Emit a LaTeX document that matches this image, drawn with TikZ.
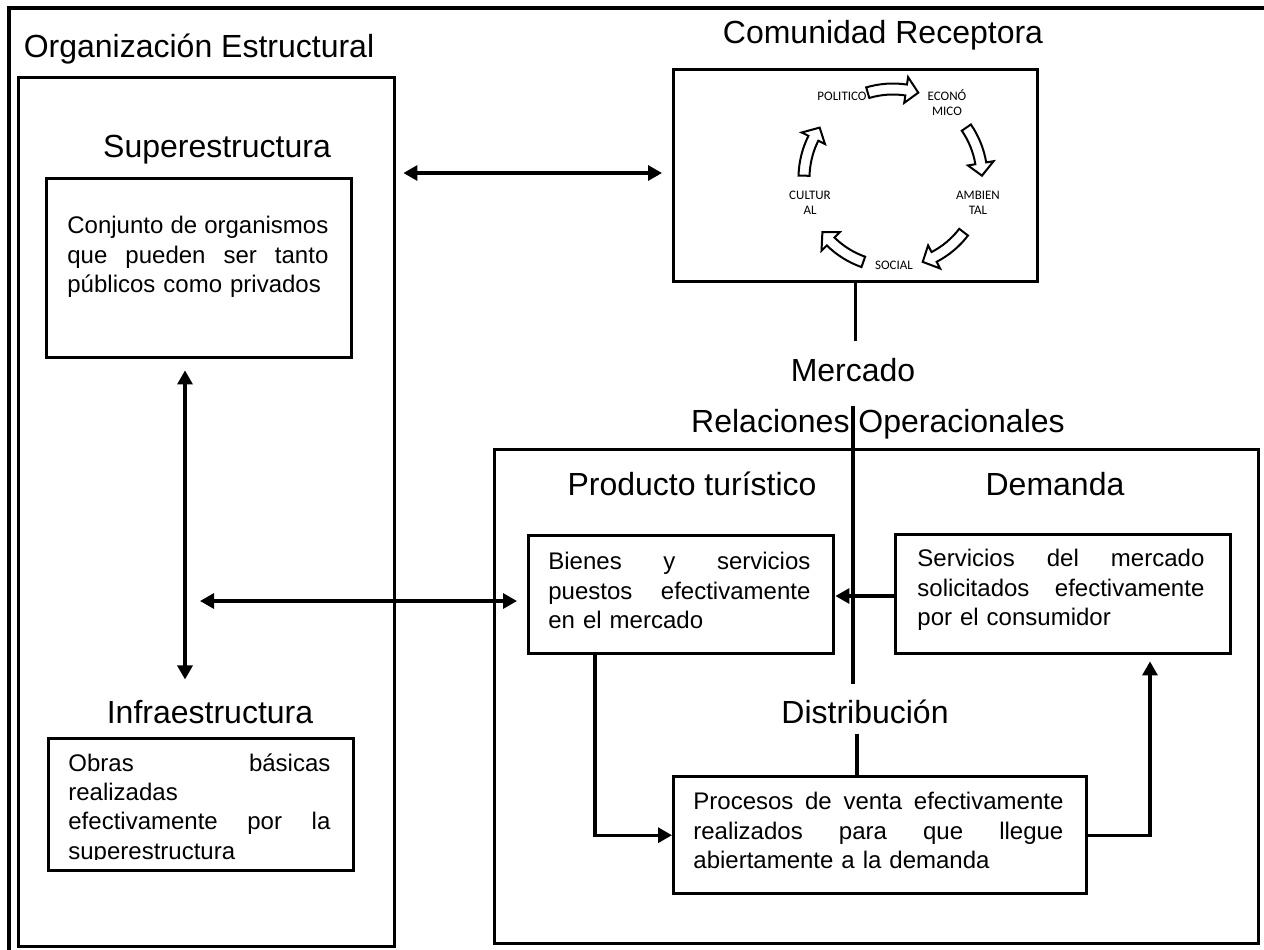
\documentclass[tikz,border=0pt]{standalone}
\usepackage{fontspec}
\setmainfont{Liberation Sans}
\newfontfamily\cycfont{Carlito}
\usetikzlibrary{arrows.meta,calc}
\begin{document}
\begin{tikzpicture}[x=0.5pt,y=-0.5pt,
  >={Triangle[length=7pt,width=7.5pt]},
  frame/.style={draw, line width=1.7pt, inner sep=0pt, anchor=north west},
  ttl/.style={font=\fontsize{16pt}{19pt}\selectfont, inner sep=0pt, anchor=base},
  body/.style={font=\fontsize{12pt}{14.7pt}\selectfont, inner sep=0pt, anchor=north west, align=left},
  conn/.style={line width=1.6pt, ->},
  dconn/.style={line width=1.6pt, <->},
  plain/.style={line width=1.6pt},
  cyc/.style={font=\cycfont\fontsize{6.5pt}{7.5pt}\selectfont, align=center, inner sep=0pt},
  barrow/.style={draw, fill=white, line width=1pt, line join=miter}]
\useasboundingbox (0,0) rectangle (1264,949);
\fill[white] (0,0) rectangle (1264,949);
% page frame
\draw[line width=1.7pt] (9,1000) -- (9,8) -- (1300,8);

% Organizacion Estructural
\node[frame, minimum width=188pt, minimum height=434.5pt] (org) at (17,76) {};
\node[ttl] (orgt) at (199,57) {Organización Estructural};
\node[ttl] (supt) at (217,157) {Superestructura};
\node[frame, minimum width=152.5pt, minimum height=89.5pt] (sup) at (45,177) {};
\node[body, text width=130.5pt] (supx) at (67,216) {Conjunto\hfill de\hfill organismos\\ que\hfill pueden\hfill ser\hfill tanto\\ públicos como privados};
\node[ttl] (inft) at (210,723) {Infraestructura};
\node[frame, minimum width=152.5pt, minimum height=66pt] (inf) at (47,737) {};
\begin{scope}
\clip (47,737) rectangle (352,859);
\node[body, text width=131pt] (infx) at (68,753) {Obras\hfill básicas\\ realizadas\\ efectivamente\hfill por\hfill la\\ superestructura};
\end{scope}

% Comunidad Receptora
\node[ttl] (comt) at (883,43) {Comunidad Receptora};
\node[frame, minimum width=182pt, minimum height=106pt] (com) at (672,68) {};
\begin{scope}[shift={(893,178)}, yscale=-1]
 \foreach \c in {90,18,-54,-126,-198} {
   \pgfmathsetmacro\ta{\c+16.5}
   \pgfmathsetmacro\tb{\c-16.5}
   \pgfmathsetmacro\th{\c-8.5}
   \draw[barrow] (\ta:94.5) arc[start angle=\ta, end angle=\th, radius=94.5] -- (\th:102) -- (\tb:89) -- (\th:76) -- (\th:83.5) arc[start angle=\th, end angle=\ta, radius=83.5] -- cycle;
 }
\end{scope}
\node[cyc] (pol) at (842,96) {POLITICO};
\node[cyc] (eco) at (947,103) {ECONÓ\\MICO};
\node[cyc] (amb) at (978,203) {AMBIEN\\TAL};
\node[cyc] (soc) at (894,265) {SOCIAL};
\node[cyc] (cul) at (810,203) {CULTUR\\AL};

% Mercado / Relaciones Operacionales
\node[ttl] (merc) at (853,381) {Mercado};
\node[ttl] (relt) at (878,432) {Relaciones Operacionales};
\node[frame, minimum width=382pt, minimum height=247pt] (op) at (493,448) {};
\node[ttl] (prodt) at (692,495) {Producto turístico};
\node[ttl] (demt) at (1055,495) {Demanda};
\node[frame, minimum width=152.5pt, minimum height=59pt] (prod) at (527,534) {};
\node[body, text width=131pt] (prodx) at (548,552) {Bienes\hfill y\hfill servicios\\ puestos\hfill efectivamente\\ en el mercado};
\node[frame, minimum width=167.5pt, minimum height=59.5pt] (dem) at (894,533) {};
\node[body, text width=143.5pt] (demx) at (917,549) {Servicios\hfill del\hfill mercado\\ solicitados\hfill efectivamente\\ por el consumidor};
\node[ttl] (dist) at (865,723) {Distribución};
\node[frame, minimum width=206.5pt, minimum height=58.5pt] (proc) at (672,775) {};
\node[body, text width=185pt] (procx) at (693,792) {Procesos\hfill de\hfill venta\hfill efectivamente\\ realizados\hfill para\hfill que\hfill llegue\\ abiertamente a la demanda};

% connectors
\coordinate (ya) at (0,173);
\coordinate (xv) at (185,0);
\coordinate (ym) at (0,601);
\coordinate (yd) at (0,596);
\coordinate (xp) at (595,0);
\coordinate (xq) at (1150,0);
\coordinate (xd) at (857,0);
\draw[dconn] ($(org.east |- ya)+(7,0)$) -- ($(com.west |- ya)+(-10,0)$);
\draw[dconn] ($(sup.south -| xv)+(0,11)$) -- ($(inft.north -| xv)+(0,-20)$);
\draw[dconn] ($(xv |- ym)+(15,0)$) -- ($(prod.west |- ym)+(-10,0)$);
\draw[conn] (dem.west |- yd) -- (prod.east |- yd);
\draw[conn] (prod.south -| xp) |- (proc.west);
\draw[conn] (proc.east) -| ($(dem.south -| xq)+(0,6)$);
\draw[plain] (com.south) -- ($(merc.north -| com.south)+(0,-16)$);
\draw[plain] ($(merc.south)+(0,24)$) -- ($(merc.south)+(0,302)$);
\draw[plain] ($(dist.south -| xd)+(0,10)$) -- (proc.north -| xd);
\end{tikzpicture}
\end{document}
